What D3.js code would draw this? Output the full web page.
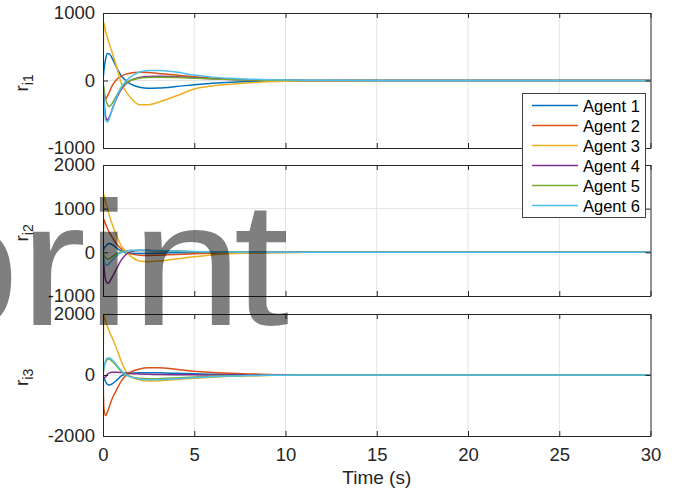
<!DOCTYPE html>
<html>
<head>
<meta charset="utf-8">
<script src="https://cdn.jsdelivr.net/npm/d3@7"></script>
<style>
  html, body { margin: 0; padding: 0; background: #fff; }
  svg { display: block; font-family: "Liberation Sans", Arial, Helvetica, sans-serif; }
</style>
</head>
<body>
<svg id="chart" width="675" height="495"></svg>
<script>
// ---- data ----
const time = [0, 0.05, 0.15, 0.25, 0.35, 0.5, 0.75, 1, 1.25, 1.5, 2, 2.5, 3, 4, 5, 6, 7, 8, 9, 10, 12, 15, 20, 25, 30];
const agents = ["Agent 1", "Agent 2", "Agent 3", "Agent 4", "Agent 5", "Agent 6"];
const colors = ["#0072BD", "#D95319", "#EDB120", "#7E2F8E", "#77AC30", "#4DBEEE"];
const xTicks = [0, 5, 10, 15, 20, 25, 30];

// r_i1
const ri1_a1 = [0, 150, 330, 400, 395, 330, 190, 70, 0, -50, -100, -115, -112, -90, -62, -40, -25, -15, -8, -3, 0, 0, 0, 0, 0];
const ri1_a2 = [0, -200, -270, -230, -170, -80, 15, 65, 95, 110, 122, 118, 105, 80, 55, 35, 20, 12, 6, 3, 0, 0, 0, 0, 0];
const ri1_a3 = [0, 850, 720, 630, 540, 420, 200, -40, -160, -250, -360, -360, -325, -230, -125, -80, -55, -35, -20, -10, -3, 0, 0, 0, 0];
const ri1_a4 = [0, -250, -540, -585, -540, -430, -260, -130, -50, 0, 45, 60, 62, 55, 40, 25, 15, 8, 4, 2, 0, 0, 0, 0, 0];
const ri1_a5 = [0, -120, -280, -360, -385, -340, -220, -110, -40, 0, 35, 45, 48, 45, 35, 22, 14, 8, 4, 2, 0, 0, 0, 0, 0];
const ri1_a6 = [0, -300, -590, -615, -560, -430, -240, -100, -10, 50, 125, 148, 150, 125, 80, 50, 32, 20, 12, 7, 2, 0, 0, 0, 0];

// r_i2
const ri2_a1 = [0, 80, 140, 190, 205, 180, 100, 30, -10, -20, -25, -25, -20, -12, -8, -5, -3, -2, -1, 0, 0, 0, 0, 0, 0];
const ri2_a2 = [0, 750, 640, 540, 450, 350, 190, 80, 10, -35, -65, -70, -65, -50, -35, -20, -12, -6, -3, -1, 0, 0, 0, 0, 0];
const ri2_a3 = [0, 1320, 1150, 990, 840, 650, 380, 150, 20, -80, -200, -215, -200, -150, -100, -60, -35, -18, -10, -5, 0, 0, 0, 0, 0];
const ri2_a4 = [0, -300, -650, -710, -680, -570, -370, -180, -55, 10, 40, 40, 35, 25, 15, 8, 5, 2, 1, 0, 0, 0, 0, 0, 0];
const ri2_a5 = [0, -60, -130, -153, -145, -100, -30, 10, 30, 40, 45, 40, 35, 25, 15, 10, 5, 3, 1, 0, 0, 0, 0, 0, 0];
const ri2_a6 = [0, -170, -280, -290, -250, -180, -80, -10, 25, 40, 50, 45, 40, 28, 18, 10, 6, 3, 1, 0, 0, 0, 0, 0, 0];

// r_i3
const ri3_a1 = [0, -80, -230, -310, -330, -290, -170, -30, 30, 55, 70, 72, 70, 55, 40, 27, 18, 11, 6, 3, 1, 0, 0, 0, 0];
const ri3_a2 = [0, -1100, -1330, -1200, -1030, -780, -480, -200, -20, 90, 200, 235, 235, 190, 125, 85, 55, 35, 20, 12, 4, 0, 0, 0, 0];
const ri3_a3 = [0, 1950, 1750, 1580, 1420, 1220, 860, 450, 130, -40, -160, -200, -195, -150, -105, -70, -45, -25, -14, -7, -2, 0, 0, 0, 0];
const ri3_a4 = [0, -100, -60, 30, 70, 90, 90, 80, 65, 50, 35, 25, 18, 10, 5, 3, 1, 0, 0, 0, 0, 0, 0, 0, 0];
const ri3_a5 = [0, 220, 430, 510, 515, 450, 290, 120, 5, -60, -110, -125, -120, -95, -65, -42, -27, -16, -9, -5, -1, 0, 0, 0, 0];
const ri3_a6 = [0, 250, 480, 560, 565, 500, 330, 150, 20, -60, -130, -155, -150, -120, -85, -55, -35, -20, -12, -7, -2, 0, 0, 0, 0];

const yTicks1 = [-1000, 0, 1000];
const yTicks2 = [-1000, 0, 1000, 2000];
const yTicks3 = [-2000, 0, 2000];

const panels = [
  { label: "i1", domain: [-1000, 1000], ticks: yTicks1, series: [ri1_a1, ri1_a2, ri1_a3, ri1_a4, ri1_a5, ri1_a6], top: 13, bottom: 148 },
  { label: "i2", domain: [-1000, 2000], ticks: yTicks2, series: [ri2_a1, ri2_a2, ri2_a3, ri2_a4, ri2_a5, ri2_a6], top: 165, bottom: 296 },
  { label: "i3", domain: [-2000, 2000], ticks: yTicks3, series: [ri3_a1, ri3_a2, ri3_a3, ri3_a4, ri3_a5, ri3_a6], top: 314, bottom: 436 }
];

// ---- drawing ----
const svg = d3.select("#chart");
const left = 103, right = 650.5;
const x = d3.scaleLinear().domain([0, 30]).range([left, right]);
const axisColor = "#262626";
const tickLen = 5;
const fmt = d => String(d);

panels.forEach((p, pi) => {
  const y = d3.scaleLinear().domain(p.domain).range([p.bottom, p.top]);
  const g = svg.append("g");
  const clipId = "clip" + pi;
  svg.append("clipPath").attr("id", clipId).append("rect")
    .attr("x", left).attr("y", p.top).attr("width", right - left).attr("height", p.bottom - p.top);

  // grid
  g.append("g").selectAll("line").data(xTicks.slice(1, -1)).join("line")
    .attr("x1", d => x(d)).attr("x2", d => x(d)).attr("y1", p.top).attr("y2", p.bottom)
    .attr("stroke", "#e3e3e3").attr("stroke-width", 1);
  g.append("g").selectAll("line").data(p.ticks.filter(t => t > p.domain[0] && t < p.domain[1])).join("line")
    .attr("x1", left).attr("x2", right).attr("y1", d => y(d)).attr("y2", d => y(d))
    .attr("stroke", "#e3e3e3").attr("stroke-width", 1);

  // lines
  const line = d3.line().x((d, i) => x(time[i])).y(d => y(d)).curve(d3.curveMonotoneX);
  g.append("g").attr("clip-path", `url(#${clipId})`).selectAll("path").data(p.series).join("path")
    .attr("d", d => line(d)).attr("fill", "none")
    .attr("stroke", (d, i) => colors[i]).attr("stroke-width", 1.5);

  // axes (box with inward ticks)
  const xb = d3.axisBottom(x).tickValues(xTicks).tickSizeInner(-tickLen).tickSizeOuter(0).tickPadding(12).tickFormat(fmt);
  const xt = d3.axisTop(x).tickValues(xTicks).tickSizeInner(-tickLen).tickSizeOuter(0).tickFormat("");
  const yl = d3.axisLeft(y).tickValues(p.ticks).tickSizeInner(-tickLen).tickSizeOuter(0).tickPadding(8).tickFormat(fmt);
  const yr = d3.axisRight(y).tickValues(p.ticks).tickSizeInner(-tickLen).tickSizeOuter(0).tickFormat("");
  if (pi < 2) xb.tickFormat("");

  const axG = [
    g.append("g").attr("transform", `translate(0,${p.bottom})`).call(xb),
    g.append("g").attr("transform", `translate(0,${p.top})`).call(xt),
    g.append("g").attr("transform", `translate(${left},0)`).call(yl),
    g.append("g").attr("transform", `translate(${right},0)`).call(yr)
  ];
  axG.forEach(a => {
    a.selectAll(".domain").attr("stroke", axisColor).attr("stroke-width", 1);
    a.selectAll(".tick line").attr("stroke", axisColor).attr("stroke-width", 1);
    a.selectAll("text").attr("fill", axisColor).attr("font-size", 18.5)
      .attr("font-family", '"Liberation Sans", Arial, Helvetica, sans-serif');
  });

  // y label
  const cy = (p.top + p.bottom) / 2 - 1;
  const lab = svg.append("text")
    .attr("transform", `translate(28,${cy + 12}) rotate(-90)`)
    .attr("fill", axisColor).attr("font-size", 19);
  lab.append("tspan").text("r");
  lab.append("tspan").attr("dy", 5).attr("font-size", 14).text(p.label);
});

// x label
svg.append("text").attr("x", (left + right) / 2).attr("y", 484)
  .attr("text-anchor", "middle").attr("fill", axisColor).attr("font-size", 19)
  .text("Time (s)");

// legend
const leg = svg.append("g");
leg.append("rect").attr("x", 522.5).attr("y", 93.5).attr("width", 123).attr("height", 124)
  .attr("fill", "#fff").attr("stroke", "#404040").attr("stroke-width", 1);
const ly = d3.scalePoint().domain(agents).range([105.5, 205.5]);
leg.selectAll("line").data(agents).join("line")
  .attr("x1", 532).attr("x2", 578).attr("y1", d => ly(d)).attr("y2", d => ly(d))
  .attr("stroke", (d, i) => colors[i]).attr("stroke-width", 1.5);
leg.selectAll("text").data(agents).join("text")
  .attr("x", 583).attr("y", d => ly(d) + 6).attr("fill", "#000").attr("font-size", 16.5)
  .text(d => d);

// watermark
const wm = svg.append("text").attr("transform", "translate(-92,325) scale(1.14,1)")
  .attr("font-size", 176).attr("fill", "#000").attr("fill-opacity", 0.5)
  .attr("font-family", '"Liberation Sans", Arial, Helvetica, sans-serif');
wm.append("tspan").text("prin");
wm.append("tspan").attr("dx", -8).text("t");
</script>
</body>
</html>
